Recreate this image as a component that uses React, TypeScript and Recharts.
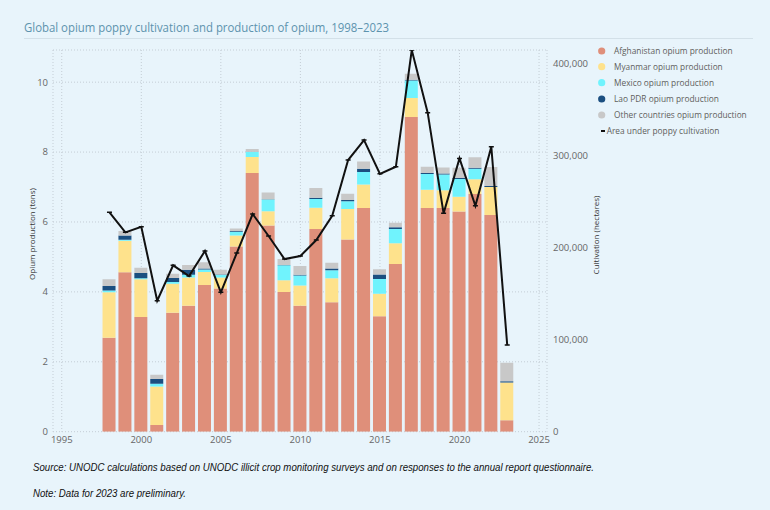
import React from 'react';
import { ComposedChart, Bar, Line, XAxis, YAxis, CartesianGrid } from 'recharts';

const years = [1998, 1999, 2000, 2001, 2002, 2003, 2004, 2005, 2006, 2007, 2008, 2009, 2010, 2011, 2012, 2013, 2014, 2015, 2016, 2017, 2018, 2019, 2020, 2021, 2022, 2023];
const afghanistan = [2.69, 4.56, 3.28, 0.19, 3.4, 3.6, 4.2, 4.1, 5.3, 7.4, 5.9, 4.0, 3.6, 5.8, 3.7, 5.5, 6.4, 3.3, 4.8, 9.0, 6.4, 6.4, 6.3, 6.8, 6.2, 0.33];
const myanmar = [1.3, 0.9, 1.08, 1.1, 0.83, 0.81, 0.37, 0.31, 0.31, 0.46, 0.41, 0.33, 0.58, 0.61, 0.69, 0.87, 0.67, 0.65, 0.59, 0.55, 0.52, 0.51, 0.42, 0.42, 0.8, 1.08];
const mexico = [0.05, 0.03, 0.03, 0.08, 0.05, 0.08, 0.07, 0.07, 0.11, 0.14, 0.33, 0.43, 0.29, 0.25, 0.23, 0.22, 0.36, 0.42, 0.41, 0.5, 0.45, 0.45, 0.51, 0.3, 0, 0];
const laoPdr = [0.13, 0.12, 0.15, 0.14, 0.12, 0.14, 0.03, 0.02, 0.02, 0.01, 0.01, 0.01, 0.02, 0.03, 0.05, 0.04, 0.09, 0.13, 0.05, 0.02, 0.03, 0.03, 0.03, 0.03, 0.03, 0.03];
const otherCountries = [0.19, 0.13, 0.15, 0.12, 0.12, 0.14, 0.18, 0.13, 0.07, 0.08, 0.19, 0.17, 0.25, 0.28, 0.16, 0.18, 0.21, 0.15, 0.13, 0.17, 0.18, 0.17, 0.29, 0.3, 0.54, 0.53];
const cultivationArea = [238200, 216500, 222600, 142200, 180700, 169000, 196200, 151400, 194000, 236400, 212500, 187500, 190800, 208100, 234500, 295000, 316700, 280000, 287700, 414400, 346400, 237100, 296800, 245400, 309400, 94100];

const xTicks = [1995, 2000, 2005, 2010, 2015, 2020, 2025];
const leftTicks = [0, 2, 4, 6, 8, 10];
const rightTicks = [0, 100000, 200000, 300000, 400000];

const seriesNames = [
  'Afghanistan opium production',
  'Myanmar opium production',
  'Mexico opium production',
  'Lao PDR opium production',
  'Other countries opium production',
];
const lineName = 'Area under poppy cultivation';
const seriesColors = ['#DF8F7A', '#FEE28C', '#70F3FD', '#1B4F80', '#C8C8C8'];
const legendWidths = [118.7, 108.7, 100, 105, 132.7];

const titleText = 'Global opium poppy cultivation and production of opium, 1998–2023';
const sourceText = 'Source: UNODC calculations based on UNODC illicit crop monitoring surveys and on responses to the annual report questionnaire.';
const noteText = 'Note: Data for 2023 are preliminary.';
const leftAxisTitle = 'Opium production (tons)';
const rightAxisTitle = 'Cultivation (hectares)';

const data = years.map((year, i) => ({
  year,
  afg: afghanistan[i],
  mya: myanmar[i],
  mex: mexico[i],
  lao: laoPdr[i],
  oth: otherCountries[i],
  area: cultivationArea[i],
}));

const keys = ['afg', 'mya', 'mex', 'lao', 'oth'];
const font = "'Open Sans', 'Noto Sans', sans-serif";
const tickStyle = { fill: '#666666', fontSize: 9.5, fontFamily: font };

const DashDot = (props: any) => {
  const { cx, cy, index } = props;
  if (cx == null || cy == null) return <g key={`d${index}`} />;
  return <line key={`d${index}`} x1={cx - 2.5} x2={cx + 2.5} y1={cy} y2={cy} stroke="#111" strokeWidth={1.5} />;
};

export default function App() {
  return (
    <div style={{ position: 'absolute', left: 0, top: 0, width: 770, height: 510, background: '#E8F4FB', overflow: 'hidden' }}>
      <div style={{ position: 'absolute', left: 0, top: 0 }}>
        <ComposedChart width={770} height={510} data={data} margin={{ top: 50, right: 153, bottom: 58.3, left: 0 }} barSize={13}>
          <CartesianGrid yAxisId="left" stroke="#C4CDD5" strokeDasharray="1 2" />
          <XAxis
            dataKey="year"
            type="number"
            domain={[1994.45, 2025.5]}
            allowDataOverflow
            ticks={xTicks}
            interval={0}
            axisLine={false}
            tickLine={false}
            tickSize={0}
            tickMargin={5}
            height={20}
            tick={tickStyle}
          />
          <YAxis
            yAxisId="left"
            orientation="left"
            domain={[0, 10.92]}
            allowDataOverflow
            ticks={leftTicks}
            interval={0}
            axisLine={false}
            tickLine={false}
            tickSize={0}
            tickMargin={5}
            width={53}
            tick={tickStyle}
          />
          <YAxis
            yAxisId="right"
            orientation="right"
            domain={[0, 414500]}
            allowDataOverflow
            ticks={rightTicks}
            interval={0}
            axisLine={false}
            tickLine={false}
            tickSize={0}
            tickMargin={6}
            width={70}
            tick={tickStyle}
            tickFormatter={(v: number) => v.toLocaleString('en-US')}
          />
          {keys.map((k, i) => (
            <Bar key={k} dataKey={k} name={seriesNames[i]} stackId="prod" yAxisId="left" fill={seriesColors[i]} isAnimationActive={false} />
          ))}
          <Line
            dataKey="area"
            name={lineName}
            yAxisId="right"
            type="linear"
            stroke="#111111"
            strokeWidth={2}
            dot={DashDot}
            activeDot={false}
            isAnimationActive={false}
          />
        </ComposedChart>
      </div>
      <svg width={770} height={510} style={{ position: 'absolute', left: 0, top: 0, pointerEvents: 'none' }}>
        <text x={24} y={31.7} fontFamily={font} fontSize={13} fill="#5D93AE" textLength={365} lengthAdjust="spacingAndGlyphs">
          {titleText}
        </text>
        <line x1={24} x2={753} y1={38.5} y2={38.5} stroke="#D3E0E8" strokeWidth={1} />
        {seriesNames.map((name, i) => {
          const cy = [51, 66.7, 82.7, 99, 115][i];
          return (
            <g key={name}>
              <circle cx={601.7} cy={cy} r={3.6} fill={seriesColors[i]} />
              <text x={614} y={cy + 3.4} fontFamily={font} fontSize={9.5} fill="#605E5C" textLength={legendWidths[i]} lengthAdjust="spacingAndGlyphs">
                {name}
              </text>
            </g>
          );
        })}
        <line x1={601} x2={605} y1={131} y2={131} stroke="#111" strokeWidth={2} />
        <text x={606.7} y={134.4} fontFamily={font} fontSize={9.5} fill="#605E5C" textLength={112.7} lengthAdjust="spacingAndGlyphs">
          {lineName}
        </text>
        <text transform="translate(31,234) rotate(-90)" textAnchor="middle" dominantBaseline="central" fontFamily={font} fontSize={8} fill="#333333">
          {leftAxisTitle}
        </text>
        <text transform="translate(595.5,235) rotate(-90)" textAnchor="middle" dominantBaseline="central" fontFamily={font} fontSize={8} fill="#333333">
          {rightAxisTitle}
        </text>
        <text x={33} y={470.5} fontFamily="'Liberation Sans', Arial, sans-serif" fontStyle="italic" fontSize={10} fill="#111" textLength={561} lengthAdjust="spacingAndGlyphs">
          {sourceText}
        </text>
        <text x={33} y={496.5} fontFamily="'Liberation Sans', Arial, sans-serif" fontStyle="italic" fontSize={10} fill="#111" textLength={153} lengthAdjust="spacingAndGlyphs">
          {noteText}
        </text>
      </svg>
    </div>
  );
}
